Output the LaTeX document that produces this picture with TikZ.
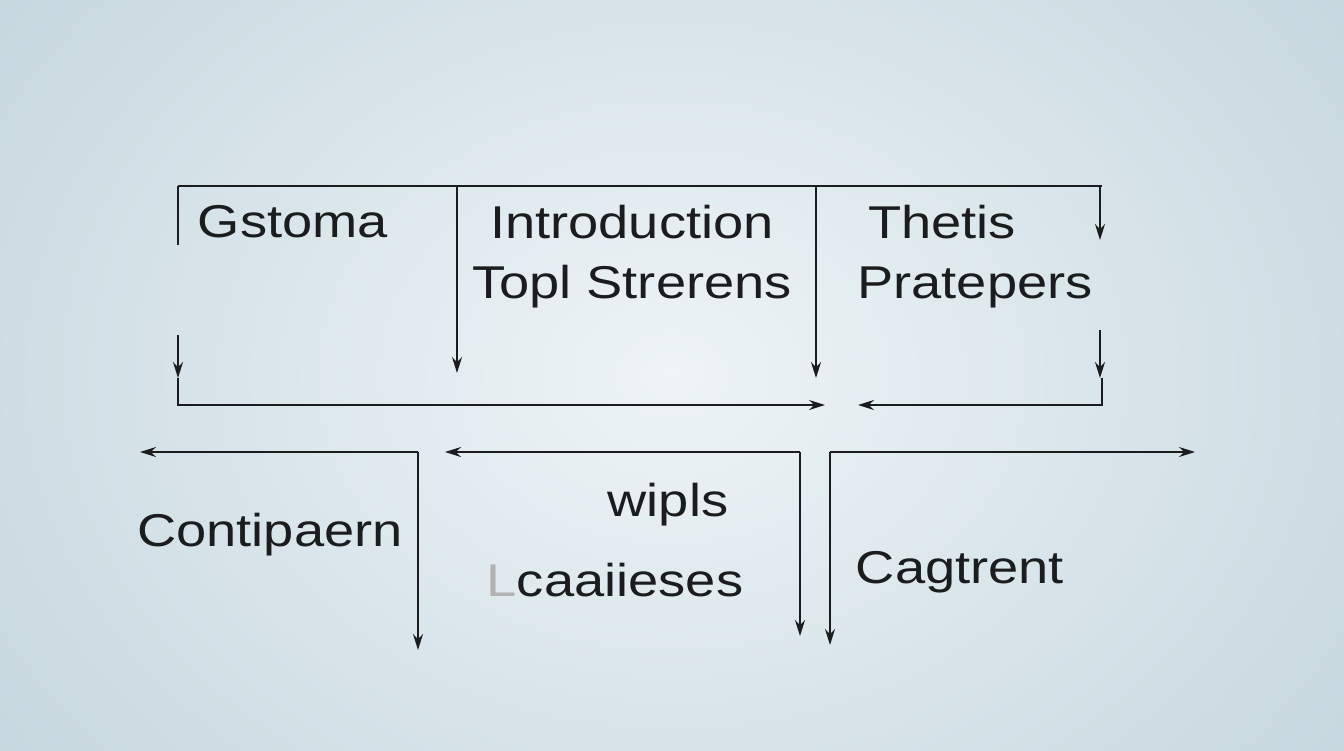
\documentclass[tikz,border=0pt]{standalone}
\usepackage{fontspec}
\setmainfont{Liberation Sans}
\usetikzlibrary{arrows.meta}
\definecolor{bgc}{HTML}{EEF4F7}
\definecolor{bge}{HTML}{C5D6DE}
\definecolor{ink}{HTML}{1A1C1E}
\begin{document}
\begin{tikzpicture}[x=1pt,y=-1pt,
  ln/.style={draw=ink,line width=1.8pt},
  ar/.style={ln,-{Stealth[length=16pt,width=10pt]}},
  lbl/.style={font=\fontsize{46}{50}\selectfont,text=ink,inner sep=0pt,xscale=1.18}]
\useasboundingbox (0,0) rectangle (1344,750);
\shade[inner color=bgc,outer color=bge] (-200,-300) rectangle (1544,1050);
% top frame
\coordinate (tl) at (178,186); \coordinate (tr) at (1102,186);
\draw[ln] (tl) -- (tr);
\draw[ln] (tl) -- (178,245);
\draw[ar] (178,335) -- (178,378);
\draw[ar] (457,186) -- (457,373);
\draw[ar] (816,186) -- (816,378);
\draw[ar] (1100,186) -- (1100,240);
\draw[ar] (1100,330) -- (1100,378);
\draw[ar] (178,378) -- (178,405) -- (825,405);
\draw[ar] (1102,378) -- (1102,405) -- (858,405);
% lower
\draw[ar] (830,452) -- (1195,452);
\draw[ar] (418,452) -- (140,452);
\draw[ar] (800,452) -- (445,452);
\draw[ar] (418,452) -- (418,650);
\draw[ar] (800,452) -- (800,636);
\draw[ar] (830,452) -- (830,645);
% texts
\node[lbl] (a) at (293,222) {Gstoma};
\node[lbl] (b) at (632,222) {Introduction};
\node[lbl] (c) at (632,287) {Topl Strerens};
\node[lbl] (d) at (942,222) {Thetis};
\node[lbl] (e) at (975,287) {Pratepers};
\node[lbl] (f) at (270,535) {Contipaern};
\node[lbl] (g) at (668,505) {wipls};
\node[lbl] (h) at (615,580) {\textcolor{gray!60}{L}caaiieses};
\node[lbl] (i) at (960,572) {Cagtrent};
\end{tikzpicture}
\end{document}
